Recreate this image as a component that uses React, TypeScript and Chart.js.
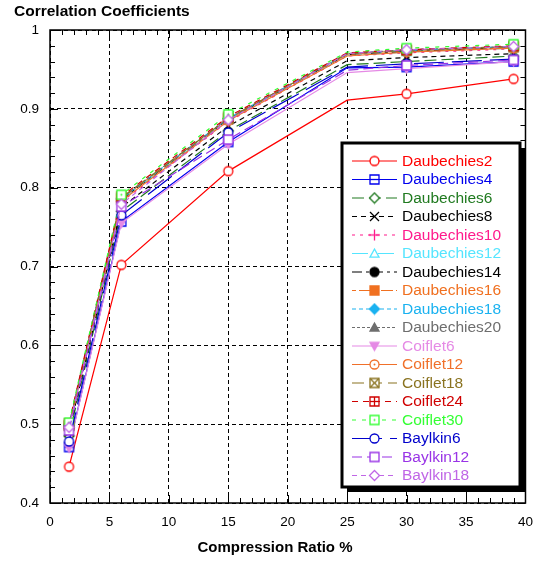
import React, { useEffect, useRef } from "react";
import { Chart, registerables } from "chart.js";

Chart.register(...registerables);

// ---------- data ----------
const compressionRatio = [1.6, 6, 15, 25, 30, 39];
const yTickValues = [0.4, 0.5, 0.6, 0.7, 0.8, 0.9, 1];
const xTickValues = [0, 5, 10, 15, 20, 25, 30, 35, 40];

const daubechies2 = [0.446, 0.702, 0.821, 0.911, 0.919, 0.938];
const daubechies4 = [0.471, 0.757, 0.858, 0.952, 0.953, 0.96];
const daubechies6 = [0.485, 0.77, 0.872, 0.956, 0.96, 0.967];
const daubechies8 = [0.49, 0.775, 0.878, 0.961, 0.965, 0.97];
const daubechies10 = [0.495, 0.782, 0.884, 0.967, 0.971, 0.976];
const daubechies12 = [0.497, 0.784, 0.886, 0.968, 0.972, 0.977];
const daubechies14 = [0.498, 0.785, 0.887, 0.969, 0.973, 0.978];
const daubechies16 = [0.498, 0.786, 0.887, 0.969, 0.974, 0.978];
const daubechies18 = [0.499, 0.786, 0.888, 0.97, 0.974, 0.979];
const daubechies20 = [0.499, 0.787, 0.888, 0.97, 0.975, 0.979];
const coiflet6 = [0.47, 0.755, 0.855, 0.946, 0.951, 0.96];
const coiflet12 = [0.495, 0.783, 0.885, 0.967, 0.972, 0.977];
const coiflet18 = [0.498, 0.787, 0.888, 0.97, 0.974, 0.979];
const coiflet24 = [0.501, 0.789, 0.89, 0.971, 0.975, 0.98];
const coiflet30 = [0.502, 0.791, 0.893, 0.972, 0.977, 0.982];
const baylkin6 = [0.478, 0.765, 0.87, 0.953, 0.957, 0.963];
const baylkin12 = [0.492, 0.776, 0.861, 0.949, 0.955, 0.962];
const baylkin18 = [0.496, 0.779, 0.886, 0.97, 0.975, 0.979];

const seriesNames = [
  "Daubechies2", "Daubechies4", "Daubechies6", "Daubechies8", "Daubechies10",
  "Daubechies12", "Daubechies14", "Daubechies16", "Daubechies18", "Daubechies20",
  "Coiflet6", "Coiflet12", "Coiflet18", "Coiflet24", "Coiflet30",
  "Baylkin6", "Baylkin12", "Baylkin18",
];
const seriesValues = [
  daubechies2, daubechies4, daubechies6, daubechies8, daubechies10,
  daubechies12, daubechies14, daubechies16, daubechies18, daubechies20,
  coiflet6, coiflet12, coiflet18, coiflet24, coiflet30,
  baylkin6, baylkin12, baylkin18,
];

// ---------- styles ----------
const seriesColors = [
  "#ff0000", "#0000ee", "#207a20", "#000000", "#ff1a8c",
  "#55e5ff", "#000000", "#f07020", "#1ab2f0", "#6e6e6e",
  "#e58ae5", "#f0702a", "#8a7320", "#d00000", "#33ff33",
  "#0000cc", "#9933e6", "#c066e6",
];
const seriesDashes: number[][] = [
  [], [], [12, 5], [5, 4], [3, 5],
  [16, 4, 2, 4], [10, 4, 3, 4], [4, 3, 12, 3], [4, 3], [3, 2],
  [], [], [12, 6], [6, 5], [4, 6],
  [30, 8], [10, 5], [5, 4],
];
const seriesMarkers = [
  "circle", "squareBar", "diamond", "x", "plus",
  "triangle", "circleF", "squareF", "diamondF", "triangleF",
  "triDownF", "circleDot", "squareX", "squarePlus", "squareDot",
  "circle", "square", "diamond",
];
const markerShown = [true, true, true, false, true, true];

const FONT = "'Liberation Sans', Arial, Helvetica, sans-serif";

function makeMarker(kind: string, color: string): HTMLCanvasElement {
  const s = 13;
  const c = document.createElement("canvas");
  c.width = s;
  c.height = s;
  const g = c.getContext("2d")!;
  g.strokeStyle = color;
  g.fillStyle = color;
  g.lineWidth = 1.3;
  const m = 6.5;
  const r = 4.5;
  const open = (path: () => void) => {
    g.beginPath();
    path();
    g.closePath();
    g.fillStyle = "#ffffff";
    g.fill();
    g.stroke();
    g.fillStyle = color;
  };
  const filled = (path: () => void) => {
    g.beginPath();
    path();
    g.closePath();
    g.fill();
    g.stroke();
  };
  const circ = () => g.arc(m, m, r, 0, Math.PI * 2);
  const sq = () => g.rect(m - r, m - r, 2 * r, 2 * r);
  const dia = () => {
    g.moveTo(m, m - r - 0.5);
    g.lineTo(m + r + 0.5, m);
    g.lineTo(m, m + r + 0.5);
    g.lineTo(m - r - 0.5, m);
  };
  const tri = () => {
    g.moveTo(m, m - r);
    g.lineTo(m + r, m + r * 0.8);
    g.lineTo(m - r, m + r * 0.8);
  };
  const triDown = () => {
    g.moveTo(m, m + r);
    g.lineTo(m + r, m - r * 0.8);
    g.lineTo(m - r, m - r * 0.8);
  };
  const line = (x1: number, y1: number, x2: number, y2: number) => {
    g.beginPath();
    g.moveTo(x1, y1);
    g.lineTo(x2, y2);
    g.stroke();
  };
  switch (kind) {
    case "circle": open(circ); break;
    case "square": open(sq); break;
    case "squareBar":
      open(sq);
      line(m - r, m, m + r, m);
      break;
    case "diamond": open(dia); break;
    case "triangle": open(tri); break;
    case "x":
      line(m - r, m - r, m + r, m + r);
      line(m - r, m + r, m + r, m - r);
      break;
    case "plus":
      line(m - r - 1, m, m + r + 1, m);
      line(m, m - r - 1, m, m + r + 1);
      break;
    case "circleF": filled(circ); break;
    case "squareF": filled(sq); break;
    case "diamondF": filled(dia); break;
    case "triangleF": filled(tri); break;
    case "triDownF": filled(triDown); break;
    case "circleDot":
      open(circ);
      g.beginPath();
      g.arc(m, m, 1, 0, Math.PI * 2);
      g.fill();
      break;
    case "squareX":
      open(sq);
      line(m - r, m - r, m + r, m + r);
      line(m - r, m + r, m + r, m - r);
      break;
    case "squarePlus":
      open(sq);
      line(m - r, m, m + r, m);
      line(m, m - r, m, m + r);
      break;
    case "squareDot":
      open(sq);
      g.beginPath();
      g.arc(m, m, 1, 0, Math.PI * 2);
      g.fill();
      break;
  }
  return c;
}

export default function App() {
  const canvasRef = useRef<HTMLCanvasElement | null>(null);

  useEffect(() => {
    const canvas = canvasRef.current;
    if (!canvas) return;
    const markers = seriesMarkers.map((k, i) => makeMarker(k, seriesColors[i]));

    const datasets = seriesNames.map((name, i) => ({
      label: name,
      data: compressionRatio.map((x, j) => ({ x, y: seriesValues[i][j] })),
      borderColor: seriesColors[i],
      backgroundColor: seriesColors[i],
      borderWidth: 1.2,
      borderDash: seriesDashes[i],
      pointStyle: markers[i],
      pointRadius: markerShown.map((s) => (s ? 5 : 0)),
      pointHoverRadius: markerShown.map((s) => (s ? 5 : 0)),
      tension: 0,
      fill: false,
      order: -i,
    }));

    const decorPlugin = {
      id: "decor",
      afterDatasetsDraw(chart: any) {
        const { ctx, chartArea: a, scales } = chart;
        const xs = scales.x;
        const ys = scales.y;
        ctx.save();
        ctx.strokeStyle = "#000";
        ctx.lineWidth = 1;
        ctx.setLineDash([]);
        ctx.beginPath();
        for (let v = 0; v <= 40; v += 1) {
          const px = Math.round(xs.getPixelForValue(v)) + 0.5;
          const len = v % 5 === 0 ? 8 : 5;
          ctx.moveTo(px, a.bottom);
          ctx.lineTo(px, a.bottom - len);
          ctx.moveTo(px, a.top);
          ctx.lineTo(px, a.top + len);
        }
        for (let i = 0; i <= 30; i++) {
          const v = 0.4 + i * 0.02;
          const py = Math.round(ys.getPixelForValue(v)) + 0.5;
          const len = i % 5 === 0 ? 8 : 5;
          ctx.moveTo(a.left, py);
          ctx.lineTo(a.left + len, py);
          ctx.moveTo(a.right, py);
          ctx.lineTo(a.right - len, py);
        }
        ctx.stroke();
        ctx.lineWidth = 1.5;
        ctx.strokeRect(a.left, a.top, a.right - a.left, a.bottom - a.top);

        // chart title and axis title
        ctx.fillStyle = "#000";
        ctx.font = `bold 15.5px ${FONT}`;
        ctx.textAlign = "left";
        ctx.textBaseline = "middle";
        ctx.fillText("Correlation Coefficients", 14, 12);
        ctx.font = `bold 15px ${FONT}`;
        ctx.textAlign = "center";
        ctx.fillText("Compression Ratio %", 275, 548);
        ctx.restore();
      },
      afterDraw(chart: any) {
        const { ctx } = chart;
        ctx.save();
        const bx = 342, by = 143, bw = 178, bh = 344;
        ctx.fillStyle = "#000";
        ctx.fillRect(bx + 5, by + 5, bw, bh);
        ctx.fillStyle = "#fff";
        ctx.fillRect(bx, by, bw, bh);
        ctx.lineWidth = 3;
        ctx.strokeStyle = "#000";
        ctx.strokeRect(bx, by, bw, bh);

        ctx.font = `15.5px ${FONT}`;
        ctx.textAlign = "left";
        ctx.textBaseline = "middle";
        seriesNames.forEach((name, i) => {
          const y = 161 + i * 18.5;
          ctx.strokeStyle = seriesColors[i];
          ctx.lineWidth = 1.2;
          ctx.setLineDash(seriesDashes[i]);
          ctx.beginPath();
          ctx.moveTo(352, y);
          ctx.lineTo(397, y);
          ctx.stroke();
          ctx.setLineDash([]);
          const mk = markers[i];
          ctx.drawImage(mk, 374.5 - mk.width / 2, y - mk.height / 2);
          ctx.fillStyle = seriesColors[i];
          ctx.fillText(name, 402, y + 0.5);
        });
        ctx.restore();
      },
    };

    const chart = new Chart(canvas, {
      type: "line",
      data: { datasets: datasets as any },
      options: {
        animation: false,
        responsive: false,
        devicePixelRatio: 1,
        layout: { padding: { top: 30, left: 8, right: 16, bottom: 0 } },
        plugins: {
          legend: { display: false },
          tooltip: { enabled: false },
          title: { display: false },
        },
        scales: {
          x: {
            type: "linear",
            min: 0,
            max: 40,
            afterFit: (s: any) => { s.height = 58; },
            afterBuildTicks: (s: any) => { s.ticks = xTickValues.map((v) => ({ value: v })); },
            ticks: {
              color: "#000",
              font: { family: FONT, size: 13.5 },
              padding: 11,
              maxRotation: 0,
              autoSkip: false,
            },
            grid: {
              color: "#000",
              lineWidth: 1,
              drawTicks: false,
            },
            border: { display: false, dash: [4, 3] },
          } as any,
          y: {
            type: "linear",
            min: 0.4,
            max: 1,
            afterFit: (s: any) => { s.width = 42; },
            afterBuildTicks: (s: any) => { s.ticks = yTickValues.map((v) => ({ value: v })); },
            ticks: {
              color: "#000",
              font: { family: FONT, size: 13.5 },
              padding: 11,
              autoSkip: false,
              callback: (v: any) => (Math.abs(v - 1) < 1e-9 ? "1" : Number(v).toFixed(1)),
            },
            grid: {
              color: "#000",
              lineWidth: 1,
              drawTicks: false,
            },
            border: { display: false, dash: [4, 3] },
          } as any,
        },
      },
      plugins: [decorPlugin],
    });

    return () => chart.destroy();
  }, []);

  return (
    <div style={{ position: "fixed", left: 0, top: 0, width: 544, height: 561, background: "#fff" }}>
      <canvas ref={canvasRef} width={544} height={561} style={{ display: "block" }} />
    </div>
  );
}
